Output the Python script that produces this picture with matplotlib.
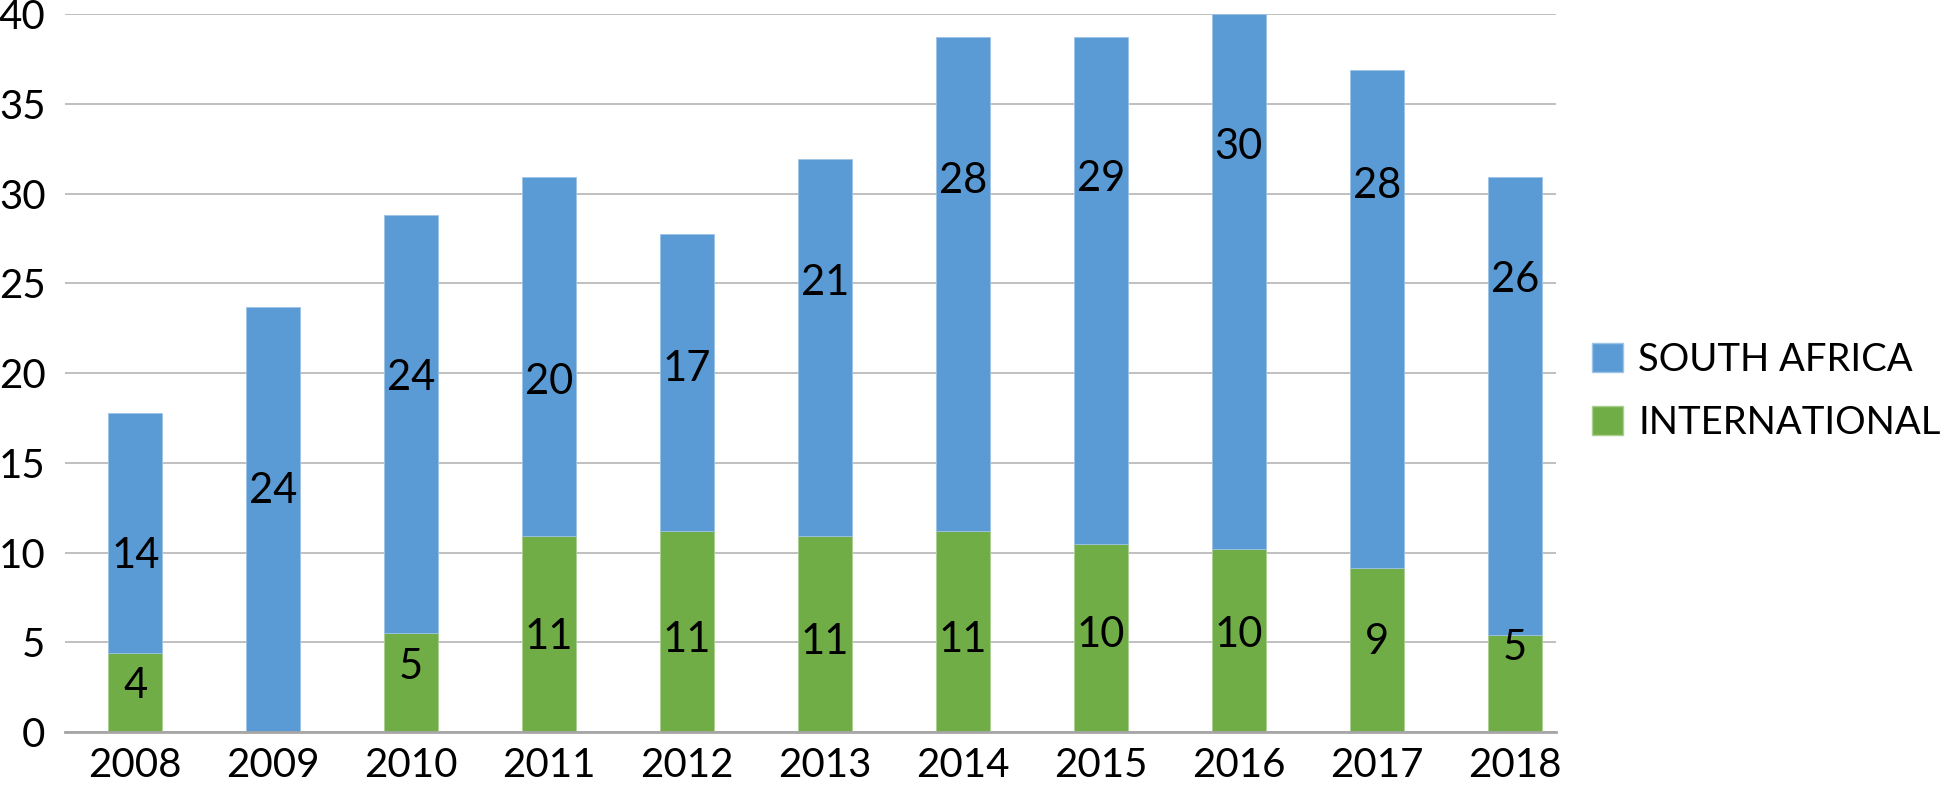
import matplotlib.pyplot as plt
import matplotlib
import numpy as np
from matplotlib.patches import Patch

matplotlib.rcParams['font.family'] = ['Lato', 'DejaVu Sans']

# data
years = ['2008', '2009', '2010', '2011', '2012', '2013', '2014', '2015', '2016', '2017', '2018']
international = [4.4, 0, 5.5, 10.9, 11.2, 10.9, 11.2, 10.5, 10.2, 9.15, 5.4]
south_africa = [13.4, 23.7, 23.3, 20.0, 16.55, 21.05, 27.5, 28.2, 29.8, 27.75, 25.5]
# printed labels on the bars
sa_labels = [14, 24, 24, 20, 17, 21, 28, 29, 30, 28, 26]
intl_labels = [4, None, 5, 11, 11, 11, 11, 10, 10, 9, 5]

# where the labels sit (y, data units)
sa_label_y = [9.8, 13.4, 19.7, 19.5, 20.2, 25.0, 30.7, 30.8, 32.6, 30.4, 25.2]
intl_label_y = [2.55, 0, 3.6, 5.3, 5.1, 5.0, 5.1, 5.4, 5.4, 5.0, 4.7]

blue = '#5B9BD5'
green = '#70AD47'

x = np.arange(len(years))
width = 0.39

fig = plt.figure(figsize=(19.46, 7.87), dpi=100)
ax = fig.add_axes([0.0334, 0.0699, 0.7662, 0.9127])

ax.bar(x, international, width, color=green, edgecolor='#a9d08e', linewidth=0.6, zorder=3)
ax.bar(x, south_africa, width, bottom=international, color=blue,
       edgecolor='#9dc3e6', linewidth=0.6, zorder=3)

for i in range(len(years)):
    ax.text(x[i], sa_label_y[i], str(sa_labels[i]), ha='center', va='center',
            fontsize=30, color='black', zorder=4)
    if intl_labels[i] is not None:
        ax.text(x[i], intl_label_y[i], str(intl_labels[i]), ha='center', va='center',
                fontsize=30, color='black', zorder=4)

ax.set_xlim(-0.51, 10.3)
ax.set_ylim(0, 40.02)
ax.set_yticks(np.arange(0, 41, 5))
ax.set_xticks(x)
ax.set_xticklabels(years)
ax.tick_params(axis='both', length=0, labelsize=29)
ax.tick_params(axis='y', pad=14)
ax.tick_params(axis='x', pad=11)

ax.grid(axis='y', color='#c0c0c0', linewidth=1.4, zorder=0)
for s in ['top', 'right', 'left']:
    ax.spines[s].set_visible(False)
ax.spines['bottom'].set_color('#a6a6a6')
ax.spines['bottom'].set_linewidth(2)
ax.spines['bottom'].set_zorder(3.5)

handles = [Patch(facecolor=blue, edgecolor='#9dc3e6'), Patch(facecolor=green, edgecolor='#a9d08e')]
fig.legend(handles, ['SOUTH AFRICA', 'INTERNATIONAL'], loc='center left',
           bbox_to_anchor=(0.8085, 0.503), frameon=False, fontsize=27.5,
           handlelength=0.8, handleheight=0.8, handletextpad=0.4, labelspacing=0.7,
           borderpad=0)

plt.savefig('out.png', dpi=100, facecolor='white')
plt.close()
